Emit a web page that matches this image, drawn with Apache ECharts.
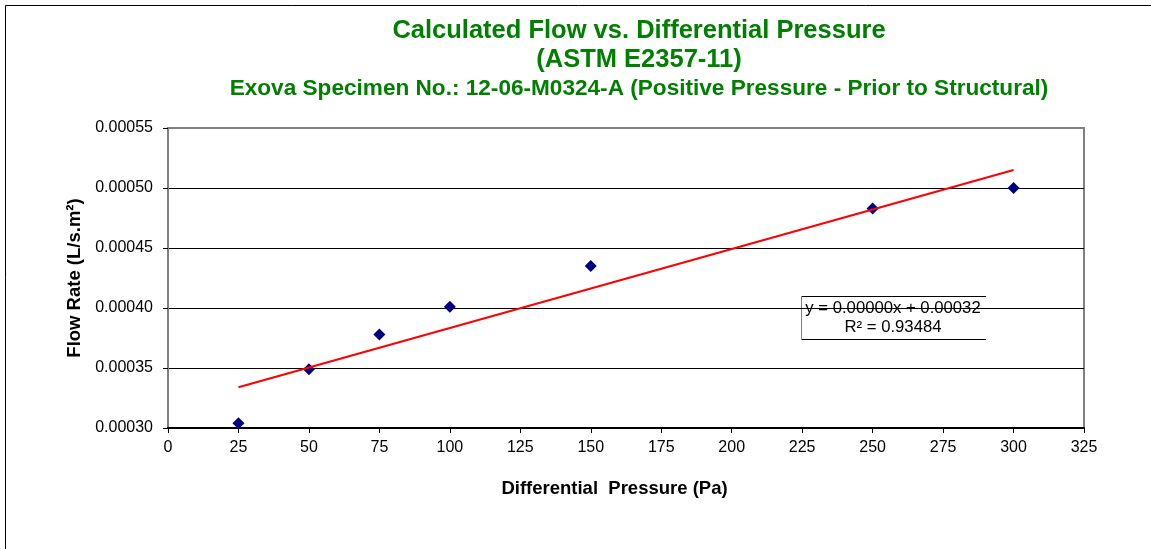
<!DOCTYPE html>
<html>
<head>
<meta charset="utf-8">
<script src="https://cdn.jsdelivr.net/npm/echarts@6/dist/echarts.min.js"></script>
<style>
html, body { margin: 0; padding: 0; background: #ffffff; }
#chart { width: 1151px; height: 549px; }
</style>
</head>
<body>
<div id="chart"></div>
<script>
// ---- data ----
const pressure = [25, 50, 75, 100, 150, 250, 300];
const flowRate = [0.000304, 0.000349, 0.000378, 0.000401, 0.000435, 0.000483, 0.000500];
const trendX = [25, 300];
const trendY = [0.000334, 0.000515];
const xMin = 0, xMax = 325, xStep = 25;
const yMin = 0.00030, yMax = 0.00055, yStep = 0.00005;
const titleLines = [
  'Calculated Flow vs. Differential Pressure',
  '(ASTM E2357-11)',
  'Exova Specimen No.: 12-06-M0324-A (Positive Pressure - Prior to Structural)'
];
const xTitle = 'Differential  Pressure (Pa)';
const yTitle = 'Flow Rate (L/s.m²)';
const equationLines = ['y = 0.00000x + 0.00032', 'R² = 0.93484'];

// ---- chart ----
const FONT = '"Liberation Sans", Arial, sans-serif';
const chart = echarts.init(document.getElementById('chart'), null, { renderer: 'canvas' });

const option = {
  animation: false,
  backgroundColor: '#ffffff',
  grid: {
    left: 168, top: 128, width: 916, height: 300,
    show: true, borderColor: '#808080', borderWidth: 2, backgroundColor: 'transparent'
  },
  xAxis: {
    type: 'value', min: xMin, max: xMax, interval: xStep,
    name: xTitle, nameLocation: 'middle', nameGap: 51,
    nameTextStyle: { fontFamily: FONT, fontSize: 18.5, fontWeight: 'bold', color: '#000', padding: [0, 23, 0, 0] },
    axisLine: { show: true, lineStyle: { color: '#000', width: 2 } },
    axisTick: { show: true, inside: false, length: 5, lineStyle: { color: '#000', width: 1 } },
    axisLabel: { fontFamily: FONT, fontSize: 16, color: '#000', margin: 12 },
    splitLine: { show: false }
  },
  yAxis: {
    type: 'value', min: yMin, max: yMax, interval: yStep,
    name: yTitle, nameLocation: 'middle', nameGap: 84,
    nameTextStyle: { fontFamily: FONT, fontSize: 18.5, fontWeight: 'bold', color: '#000' },
    axisLine: { show: true, lineStyle: { color: '#808080', width: 2 } },
    axisTick: { show: true, inside: false, length: 5, lineStyle: { color: '#000', width: 1 } },
    axisLabel: {
      fontFamily: FONT, fontSize: 16, color: '#000', margin: 15,
      formatter: v => v.toFixed(5)
    },
    splitLine: { show: true, lineStyle: { color: ['#000', '#000', '#000', '#000', '#000', '#808080'], width: 1 } }
  },
  series: [
    {
      type: 'scatter',
      data: pressure.map((x, i) => [x, flowRate[i]]),
      symbol: 'diamond', symbolSize: 12,
      itemStyle: { color: '#000080', opacity: 1 },
      z: 3
    },
    {
      type: 'line',
      data: trendX.map((x, i) => [x, trendY[i]]),
      showSymbol: false, symbol: 'none',
      lineStyle: { color: '#ff0000', width: 2 },
      z: 4
    }
  ],
  graphic: [
    {
      type: 'rect', z: -10, silent: true,
      shape: { x: 5.5, y: 5.5, width: 1200, height: 600 },
      style: { fill: 'none', stroke: '#000', lineWidth: 1 }
    },
    {
      type: 'text', z: 10,
      style: { text: titleLines[0], x: 639, y: 31, textAlign: 'center', textVerticalAlign: 'middle',
               font: 'bold 25.5px ' + FONT, fill: '#008000' }
    },
    {
      type: 'text', z: 10,
      style: { text: titleLines[1], x: 639, y: 60, textAlign: 'center', textVerticalAlign: 'middle',
               font: 'bold 25.5px ' + FONT, fill: '#008000' }
    },
    {
      type: 'text', z: 10,
      style: { text: titleLines[2], x: 639, y: 89, textAlign: 'center', textVerticalAlign: 'middle',
               font: 'bold 22.6px ' + FONT, fill: '#008000' }
    },
    {
      type: 'group', z: 20,
      children: [
        { type: 'rect', shape: { x: 801, y: 296, width: 185, height: 43 }, style: { fill: '#fff', stroke: 'none' } },
        { type: 'line', shape: { x1: 801, y1: 296.5, x2: 986, y2: 296.5 }, style: { stroke: '#000', lineWidth: 1 } },
        { type: 'line', shape: { x1: 801, y1: 339.5, x2: 986, y2: 339.5 }, style: { stroke: '#000', lineWidth: 1 } },
        { type: 'line', shape: { x1: 801.5, y1: 296, x2: 801.5, y2: 340 }, style: { stroke: '#808080', lineWidth: 1 } },
        { type: 'text', style: { text: equationLines[0], x: 893, y: 308, textAlign: 'center', textVerticalAlign: 'middle',
                                 font: '16.7px ' + FONT, fill: '#000' } },
        { type: 'text', style: { text: equationLines[1], x: 893, y: 327, textAlign: 'center', textVerticalAlign: 'middle',
                                 font: '16.7px ' + FONT, fill: '#000' } }
      ]
    }
  ]
};
chart.setOption(option);
</script>
</body>
</html>
